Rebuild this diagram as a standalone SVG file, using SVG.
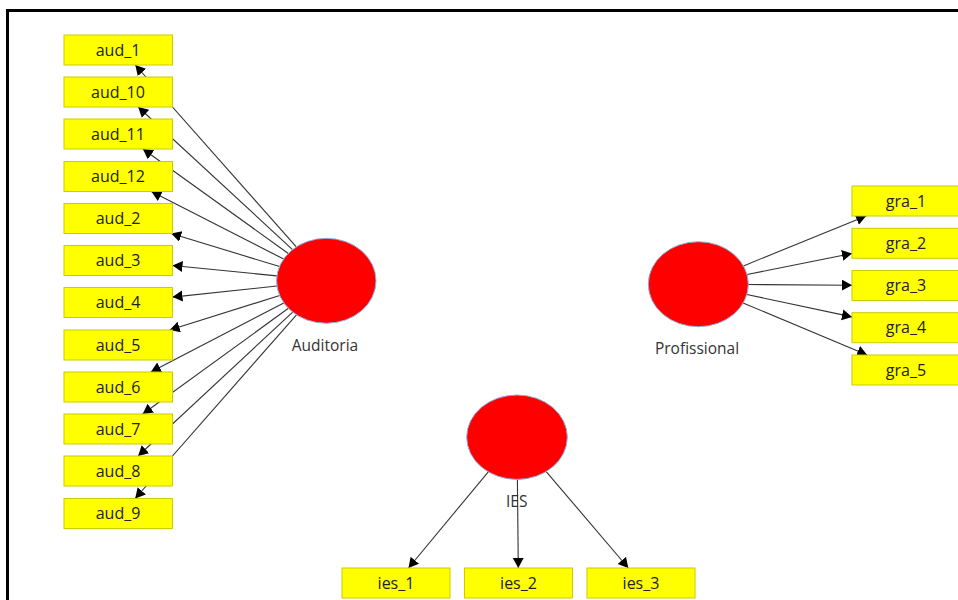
<svg xmlns="http://www.w3.org/2000/svg" width="958" height="600" viewBox="0 0 958 600">
<style>
.box{fill:#ffff00;stroke:#cccc00;stroke-width:1}
.lat{fill:#ff0000;stroke:#8fb0e0;stroke-width:1}
.bt{font-family:"Open Sans","Noto Sans","DejaVu Sans",sans-serif;font-size:16px;fill:#222;text-anchor:middle}
.lt{font-family:"Open Sans","Noto Sans","DejaVu Sans",sans-serif;font-size:15.5px;fill:#333;text-anchor:middle}
.c line{stroke:#333;stroke-width:1.1;marker-end:url(#ah)}
</style>
<defs>
<marker id="ah" markerUnits="userSpaceOnUse" markerWidth="12" markerHeight="12" refX="10" refY="5.5" orient="auto" viewBox="0 0 12 12">
<path d="M0,0 L10,5.5 L0,11 z" fill="#000"/>
</marker>
</defs>
<rect width="958" height="600" fill="#fff"/>
<path d="M7.5,600 V10.5 H958" fill="none" stroke="#000" stroke-width="3"/>
<g id="connectors" class="c">
<line x1="296.3" y1="246.9" x2="135.3" y2="65"/>
<line x1="292.5" y1="249.6" x2="138.2" y2="107"/>
<line x1="288.3" y1="253.5" x2="142.9" y2="149"/>
<line x1="283.6" y1="259.0" x2="151.4" y2="191.5"/>
<line x1="279.5" y1="266.5" x2="171.2" y2="233.5"/>
<line x1="276.9" y1="275.9" x2="172.5" y2="265.5"/>
<line x1="277.0" y1="286.0" x2="172.5" y2="297.1"/>
<line x1="279.7" y1="295.5" x2="169.7" y2="330"/>
<line x1="283.8" y1="302.9" x2="150.8" y2="372"/>
<line x1="288.4" y1="308.3" x2="142.7" y2="414"/>
<line x1="292.7" y1="312.1" x2="138.1" y2="456"/>
<line x1="296.5" y1="314.8" x2="135.2" y2="498.5"/>
<line x1="743.4" y1="265.9" x2="866.1" y2="216"/>
<line x1="747.0" y1="274.5" x2="852" y2="253.5"/>
<line x1="748.3" y1="284.5" x2="852" y2="285.2"/>
<line x1="746.8" y1="294.5" x2="852" y2="316.9"/>
<line x1="743.1" y1="303.0" x2="867.2" y2="355"/>
<line x1="488.3" y1="471.8" x2="408.5" y2="568"/>
<line x1="517.4" y1="479.4" x2="518.3" y2="568"/>
<line x1="546.2" y1="471.6" x2="628.3" y2="568"/>
</g>
<g id="aud_1"><rect class="box" x="64" y="35" width="108.5" height="30"/><text class="bt" x="118" y="55.5">aud_1</text></g>
<g id="aud_10"><rect class="box" x="64" y="77" width="108.5" height="30"/><text class="bt" x="118" y="97.5">aud_10</text></g>
<g id="aud_11"><rect class="box" x="64" y="119" width="108.5" height="30"/><text class="bt" x="118" y="139.5">aud_11</text></g>
<g id="aud_12"><rect class="box" x="64" y="161.5" width="108.5" height="30"/><text class="bt" x="118" y="182">aud_12</text></g>
<g id="aud_2"><rect class="box" x="64" y="203.5" width="108.5" height="30"/><text class="bt" x="118" y="224">aud_2</text></g>
<g id="aud_3"><rect class="box" x="64" y="245.5" width="108.5" height="30"/><text class="bt" x="118" y="266">aud_3</text></g>
<g id="aud_4"><rect class="box" x="64" y="287.5" width="108.5" height="30"/><text class="bt" x="118" y="308">aud_4</text></g>
<g id="aud_5"><rect class="box" x="64" y="330" width="108.5" height="30"/><text class="bt" x="118" y="350.5">aud_5</text></g>
<g id="aud_6"><rect class="box" x="64" y="372" width="108.5" height="30"/><text class="bt" x="118" y="392.5">aud_6</text></g>
<g id="aud_7"><rect class="box" x="64" y="414" width="108.5" height="30"/><text class="bt" x="118" y="434.5">aud_7</text></g>
<g id="aud_8"><rect class="box" x="64" y="456" width="108.5" height="30"/><text class="bt" x="118" y="476.5">aud_8</text></g>
<g id="aud_9"><rect class="box" x="64" y="498.5" width="108.5" height="30"/><text class="bt" x="118" y="519">aud_9</text></g>
<g id="gra_1"><rect class="box" x="852" y="186" width="108" height="30"/><text class="bt" x="906" y="206.5">gra_1</text></g>
<g id="gra_2"><rect class="box" x="852" y="228.3" width="108" height="30"/><text class="bt" x="906" y="248.8">gra_2</text></g>
<g id="gra_3"><rect class="box" x="852" y="270.5" width="108" height="30"/><text class="bt" x="906" y="291">gra_3</text></g>
<g id="gra_4"><rect class="box" x="852" y="312.7" width="108" height="30"/><text class="bt" x="906" y="333.2">gra_4</text></g>
<g id="gra_5"><rect class="box" x="852" y="355" width="108" height="30"/><text class="bt" x="906" y="375.5">gra_5</text></g>
<g id="ies_1"><rect class="box" x="342" y="568" width="108" height="30"/><text class="bt" x="396" y="588.5">ies_1</text></g>
<g id="ies_2"><rect class="box" x="464.5" y="568" width="108" height="30"/><text class="bt" x="518.5" y="588.5">ies_2</text></g>
<g id="ies_3"><rect class="box" x="587" y="568" width="108" height="30"/><text class="bt" x="641" y="588.5">ies_3</text></g>
<g id="Auditoria"><ellipse class="lat" cx="326.3" cy="280.8" rx="49.7" ry="42.5"/><text class="lt" x="325" y="350.5">Auditoria</text></g>
<g id="Profissional"><ellipse class="lat" cx="698.3" cy="284.2" rx="50" ry="42.5"/><text class="lt" x="697" y="354">Profissional</text></g>
<g id="IES"><ellipse class="lat" cx="517" cy="437.2" rx="50.3" ry="42.2"/><text class="lt" x="516.7" y="506.5">IES</text></g>
</svg>
